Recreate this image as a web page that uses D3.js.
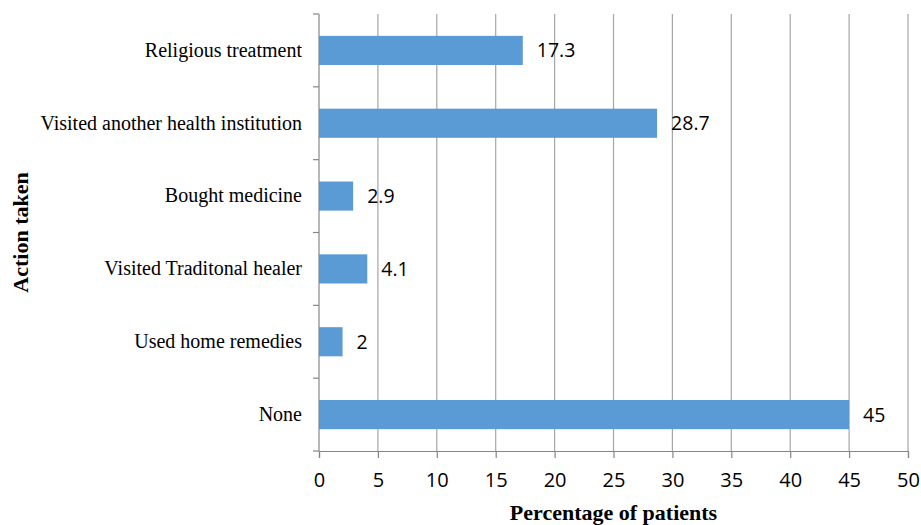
<!DOCTYPE html>
<html>
<head>
<meta charset="utf-8">
<script src="https://cdn.jsdelivr.net/npm/d3@7"></script>
<style>
body { margin: 0; background: #fff; }
</style>
</head>
<body>
<svg id="chart"></svg>
<script>
// data
var actions = ["Religious treatment", "Visited another health institution", "Bought medicine",
               "Visited Traditonal healer", "Used home remedies", "None"];
var percents = [17.3, 28.7, 2.9, 4.1, 2, 45];
var xTicks = [0, 5, 10, 15, 20, 25, 30, 35, 40, 45, 50];

var screen = {width: 921, height: 525};
var margins = {top: 14, right: 13, left: 319, bottom: 74};
var width = screen.width - margins.left - margins.right;
var height = screen.height - margins.top - margins.bottom;

var svg = d3.select("#chart")
  .attr("width", screen.width)
  .attr("height", screen.height);

var g = svg.append("g")
  .attr("transform", "translate(" + margins.left + "," + margins.top + ")");

var xScale = d3.scaleLinear().domain([0, 50]).range([0, width]);
var yScale = d3.scaleBand().domain(actions).range([0, height]).paddingInner(0.6).paddingOuter(0.3);

// vertical gridlines
g.selectAll(".grid")
  .data(xTicks.slice(1))
  .enter()
  .append("line")
  .attr("x1", function(d) { return xScale(d); })
  .attr("x2", function(d) { return xScale(d); })
  .attr("y1", 0)
  .attr("y2", height)
  .attr("stroke", "#a6a6a6")
  .attr("stroke-width", 1.2);

// bars
g.selectAll(".bar")
  .data(percents)
  .enter()
  .append("rect")
  .attr("x", 0)
  .attr("y", function(d, i) { return yScale(actions[i]); })
  .attr("width", function(d) { return xScale(d); })
  .attr("height", yScale.bandwidth())
  .attr("fill", "#5b9bd5");

// value labels
g.selectAll(".val")
  .data(percents)
  .enter()
  .append("text")
  .attr("x", function(d) { return xScale(d) + 14; })
  .attr("y", function(d, i) { return yScale(actions[i]) + yScale.bandwidth() / 2; })
  .attr("dy", "0.36em")
  .style("font-family", "'Open Sans', sans-serif")
  .style("font-size", "19.5px")
  .attr("fill", "#000")
  .text(function(d) { return d; });

// x axis
var xAxis = d3.axisBottom(xScale).tickValues(xTicks).tickSize(7).tickPadding(15);
var xg = g.append("g")
  .attr("transform", "translate(0," + height + ")")
  .call(xAxis);
xg.select(".domain").attr("stroke", "#868686").attr("stroke-width", 1.2);
xg.selectAll(".tick line").attr("stroke", "#868686").attr("stroke-width", 1.2);
xg.selectAll("text")
  .style("font-family", "'Open Sans', sans-serif")
  .style("font-size", "20px")
  .attr("fill", "#000");

// y axis: ticks sit between categories
var yAxisG = g.append("g");
yAxisG.append("line")
  .attr("x1", 0).attr("x2", 0).attr("y1", 0).attr("y2", height)
  .attr("stroke", "#868686").attr("stroke-width", 1.2);
var bounds = d3.range(actions.length + 1).map(function(i) { return i * height / actions.length; });
yAxisG.selectAll(".ytick")
  .data(bounds)
  .enter()
  .append("line")
  .attr("x1", -6).attr("x2", 0)
  .attr("y1", function(d) { return d; })
  .attr("y2", function(d) { return d; })
  .attr("stroke", "#868686").attr("stroke-width", 1.2);

yAxisG.selectAll(".ylab")
  .data(actions)
  .enter()
  .append("text")
  .attr("x", -17)
  .attr("y", function(d) { return yScale(d) + yScale.bandwidth() / 2; })
  .attr("dy", "0.32em")
  .attr("text-anchor", "end")
  .style("font-family", "'Liberation Serif', 'Times New Roman', serif")
  .style("font-size", "20px")
  .text(function(d) { return d; });

// axis titles
svg.append("text")
  .attr("x", margins.left + width / 2)
  .attr("y", 520)
  .attr("text-anchor", "middle")
  .style("font-family", "'Liberation Serif', 'Times New Roman', serif")
  .style("font-size", "22px")
  .style("font-weight", "bold")
  .text("Percentage of patients");

svg.append("text")
  .attr("transform", "translate(28," + (margins.top + height / 2) + ") rotate(-90)")
  .attr("text-anchor", "middle")
  .style("font-family", "'Liberation Serif', 'Times New Roman', serif")
  .style("font-size", "22px")
  .style("font-weight", "bold")
  .text("Action taken");
</script>
</body>
</html>
